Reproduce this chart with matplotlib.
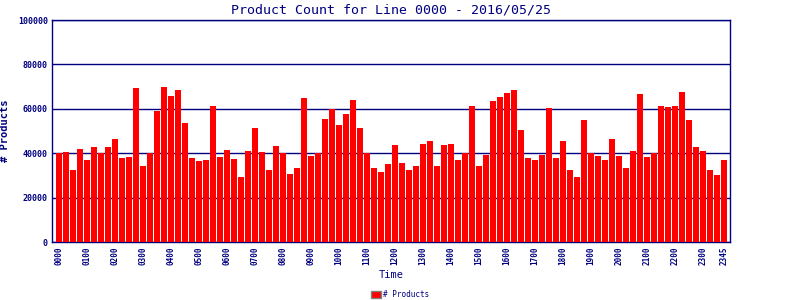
import matplotlib
matplotlib.use("Agg")
import matplotlib.pyplot as plt
from matplotlib.patches import Patch

NAVY = "#000080"

# product counts per 15-minute slot, 0000 .. 2345
counts = [
    40200, 40760, 32640, 42100, 37150, 43000, 40300, 43000, 46600, 38050,
    38500, 69200, 34440, 40150, 59260, 69640, 66030, 68730, 53840, 38050,
    36700, 37150, 61510, 38500, 41660, 37600, 29480, 41200, 51590, 40760,
    32640, 43470, 40000, 30830, 33540, 65120, 38950, 40000, 55650, 59860,
    52940, 57900, 64220, 51590, 40000, 33540, 31730, 35340, 43920, 35800,
    32640, 34440, 44370, 45720, 34440, 43920, 44370, 37150, 40000, 61510,
    34440, 39400, 63770, 65570, 67380, 68730, 50680, 38050, 37150, 39400,
    60610, 38050, 45720, 32640, 29480, 55200, 40300, 38950, 37150, 46620,
    38950, 33540, 41200, 66930, 38500, 40000, 61510, 61060, 61510, 67830,
    55200, 43010, 41200, 32640, 30380, 37150,
]
slots = [f"{(i * 15) // 60:02d}{(i * 15) % 60:02d}" for i in range(len(counts))]
tick_slots = [f"{h:02d}00" for h in range(24)] + ["2345"]
y_ticks = [0, 20000, 40000, 60000, 80000, 100000]

fig = plt.figure(figsize=(8, 3), dpi=100)
ax = fig.add_axes([0.065, 0.193, 0.8475, 0.74])

x = list(range(len(counts)))
ax.bar(x, counts, width=0.86, color="#ff0000", zorder=3, label="# Products")

ax.set_xlim(-1.0, len(counts) - 0.15)
ax.set_ylim(0, 100000)
ax.set_yticks(y_ticks)
ax.set_yticklabels([str(v) for v in y_ticks], family="DejaVu Sans Mono",
                   fontsize=6, fontweight="bold", color=NAVY)
tick_pos = [slots.index(s) for s in tick_slots]
ax.set_xticks(tick_pos)
ax.set_xticklabels(tick_slots, rotation=90, family="DejaVu Sans Mono",
                   fontsize=5.5, fontweight="bold", color=NAVY)
ax.tick_params(axis="both", length=0, pad=3)
ax.yaxis.grid(True, color=NAVY, linewidth=1, zorder=1)

for sp in ax.spines.values():
    sp.set_color(NAVY)
    sp.set_linewidth(1)

ax.set_title("Product Count for Line 0000 - 2016/05/25", family="DejaVu Sans Mono",
             fontsize=9.5, color=NAVY, pad=5)
ax.set_xlabel("Time", family="DejaVu Sans Mono", fontsize=7.5, color=NAVY, labelpad=4)
ax.set_ylabel("# Products", family="DejaVu Sans Mono", fontsize=7.5,
              fontweight="bold", color=NAVY, labelpad=6)

handle = Patch(facecolor="#ff0000", edgecolor="#808080", label="# Products")
fig.legend(handles=[handle], loc="lower center", bbox_to_anchor=(0.5, -0.02),
           frameon=False, handlelength=1.3, handleheight=0.9,
           prop={"family": "DejaVu Sans Mono", "size": 5.5},
           labelcolor=NAVY, handletextpad=0.3)

fig.savefig("out.png", dpi=100)
